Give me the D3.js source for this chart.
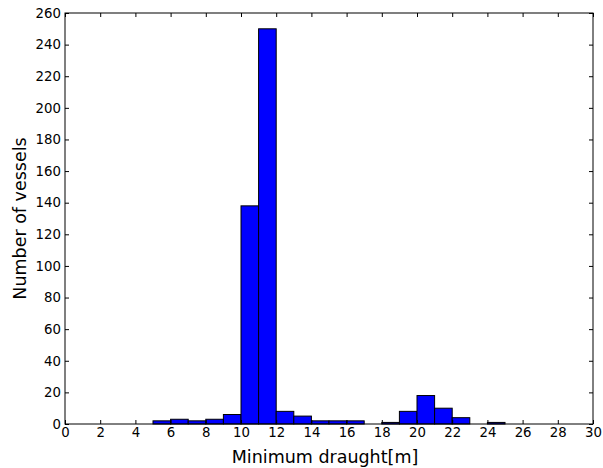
<!DOCTYPE html>
<html><head><meta charset="utf-8">
<script src="https://cdn.jsdelivr.net/npm/d3@7"></script>
<style>body{margin:0;background:#fff}svg{display:block}text{font-family:"DejaVu Sans",sans-serif}</style>
</head><body>
<script>
const binStarts = [5,6,7,8,9,10,11,12,13,14,15,16,17,18,19,20,21,22,23,24];
const counts    = [2,3,2,3,6,138,250,8,5,2,2,2,0,1,8,18,10,4,0,1];
const xTicks = [0,2,4,6,8,10,12,14,16,18,20,22,24,26,28,30];
const yTicks = [0,20,40,60,80,100,120,140,160,180,200,220,240,260];
const xLabel = "Minimum draught[m]";
const yLabel = "Number of vessels";

const W=603,H=468, m={l:65,r:10,t:13,b:44};
const svg=d3.select("body").append("svg").attr("width",W).attr("height",H);
const x=d3.scaleLinear().domain([0,30]).range([m.l,W-m.r]);
const y=d3.scaleLinear().domain([0,260]).range([H-m.b,m.t]);

svg.append("g").selectAll("rect").data(binStarts.map((s,i)=>({s,c:counts[i]})).filter(d=>d.c>0))
 .join("rect").attr("x",d=>x(d.s)).attr("width",d=>x(d.s+1)-x(d.s))
 .attr("y",d=>y(d.c)).attr("height",d=>y(0)-y(d.c))
 .attr("fill","#0000ff").attr("stroke","#000").attr("stroke-width",1);

const tl=4;
const ax=svg.append("g").attr("transform",`translate(0,${y(0)})`)
 .call(d3.axisBottom(x).tickValues(xTicks).tickSize(-tl).tickPadding(4).tickFormat(d3.format("d")));
const axT=svg.append("g").attr("transform",`translate(0,${y(260)})`)
 .call(d3.axisTop(x).tickValues(xTicks).tickSize(-tl).tickFormat(""));
const ay=svg.append("g").attr("transform",`translate(${x(0)},0)`)
 .call(d3.axisLeft(y).tickValues(yTicks).tickSize(-tl).tickPadding(4).tickFormat(d3.format("d")));
const ayR=svg.append("g").attr("transform",`translate(${x(30)},0)`)
 .call(d3.axisRight(y).tickValues(yTicks).tickSize(-tl).tickFormat(""));
[ax,axT,ay,ayR].forEach(g=>{g.select(".domain").remove();g.selectAll("text").attr("font-size",13.3).attr("fill","#000").attr("font-family","DejaVu Sans");g.selectAll("line").attr("stroke","#000");});

svg.append("rect").attr("x",x(0)).attr("y",y(260)).attr("width",x(30)-x(0)).attr("height",y(0)-y(260))
 .attr("fill","none").attr("stroke","#000").attr("stroke-width",1);

svg.append("text").attr("x",325).attr("y",463).attr("text-anchor","middle").attr("font-size",17.5).text(xLabel);
svg.append("text").attr("transform",`translate(26,${(y(0)+y(260))/2}) rotate(-90)`).attr("text-anchor","middle").attr("font-size",17.5).text(yLabel);
</script>
</body></html>
